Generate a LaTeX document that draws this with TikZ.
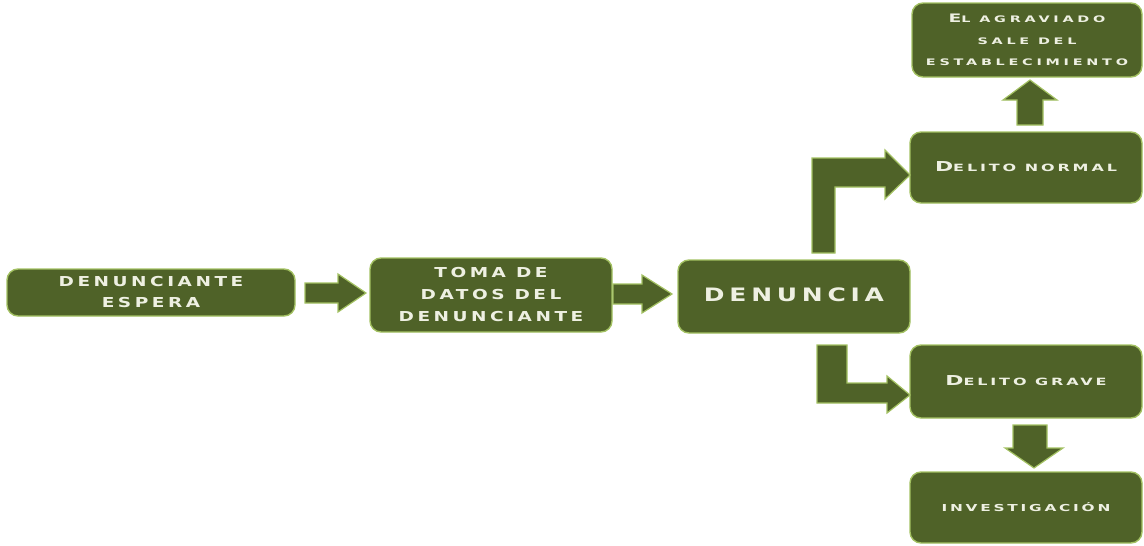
\documentclass[tikz,border=0pt]{standalone}
\usepackage{fontspec}
\usepackage{graphicx}
\newfontfamily\capfont[LetterSpace=19]{DejaVu Sans Bold}
\newfontfamily\scfont[LetterSpace=18]{DejaVu Sans Bold}
\newfontfamily\scwfont[LetterSpace=26]{DejaVu Sans Bold}
\definecolor{olive}{HTML}{4F6228}
\definecolor{edge}{HTML}{A3C162}
\definecolor{txt}{HTML}{EEF0E2}
\newcommand\fsz[2]{\fontsize{#1}{#2}\selectfont}
\newcommand\wtext[2]{\scalebox{#1}[1]{\begin{tabular}{@{}c@{}}#2\end{tabular}}}
\begin{document}
\begin{tikzpicture}[x=1pt,y=-1pt,
  box/.style={draw=edge,line width=1.4pt,fill=olive,rounded corners=11pt,
    text=txt,align=center,inner sep=0pt},
  blockarrow/.style={draw=edge,line width=1.2pt,fill=olive,line join=miter}]
\useasboundingbox (0,0) rectangle (1144,546);
\node[box,minimum width=288pt,minimum height=47pt,font=\capfont\fsz{13.7}{21}] (b1) at (151,292.5)
  {\wtext{1.35}{DENUNCIANTE\\ESPERA}};
\node[box,minimum width=242pt,minimum height=74pt,font=\capfont\fsz{13.7}{22}] (b2) at (491,295)
  {\wtext{1.35}{TOMA DE\\DATOS DEL\\DENUNCIANTE}};
\node[box,minimum width=232pt,minimum height=73pt,font=\capfont\fsz{18.5}{24}] (b3) at (794,296.5)
  {\wtext{1.35}{DENUNCIA}};
\node[box,minimum width=230pt,minimum height=74pt,font=\scwfont\fsz{9}{21.5}] (b4) at (1027,40)
  {\raisebox{-2pt}{\wtext{1.6}{{\fsz{11.7}{21.5}E}L AGRAVIADO\\SALE DEL\\ESTABLECIMIENTO}}};
\node[box,minimum width=232pt,minimum height=71pt,font=\scfont\fsz{10}{21}] (b5) at (1026,167.5)
  {\wtext{1.6}{{\fsz{13.7}{21}D}ELITO NORMAL}};
\node[box,minimum width=232pt,minimum height=73pt,font=\scfont\fsz{10}{21}] (b6) at (1026,381.5)
  {\wtext{1.6}{{\fsz{13.7}{21}D}ELITO GRAVE}};
\node[box,minimum width=232pt,minimum height=71pt,font=\scfont\fsz{9.6}{20}] (b7) at (1026,507.5)
  {\wtext{1.6}{INVESTIGACIÓN}};
% straight arrows
\draw[blockarrow] (305,283) -- (338,283) -- (338,274) -- (366,293) -- (338,312) -- (338,303) -- (305,303) -- cycle;
\draw[blockarrow] (613,284) -- (642,284) -- (642,275) -- (672,294) -- (642,313) -- (642,304) -- (613,304) -- cycle;
\draw[blockarrow] (1017,125) -- (1017,100) -- (1003,100) -- (1030,80) -- (1057,100) -- (1043,100) -- (1043,125) -- cycle;
\draw[blockarrow] (1013,425) -- (1047,425) -- (1047,448) -- (1063,448) -- (1034,468) -- (1005,448) -- (1013,448) -- cycle;
% bent arrows
\draw[blockarrow] (812,253) -- (812,158) -- (885,158) -- (885,150) -- (910,175) -- (885,199) -- (885,187) -- (835,187) -- (835,253) -- cycle;
\draw[blockarrow] (817,345) -- (847,345) -- (847,383) -- (887,383) -- (887,376) -- (910,395) -- (887,413) -- (887,403) -- (817,403) -- cycle;
\end{tikzpicture}
\end{document}
